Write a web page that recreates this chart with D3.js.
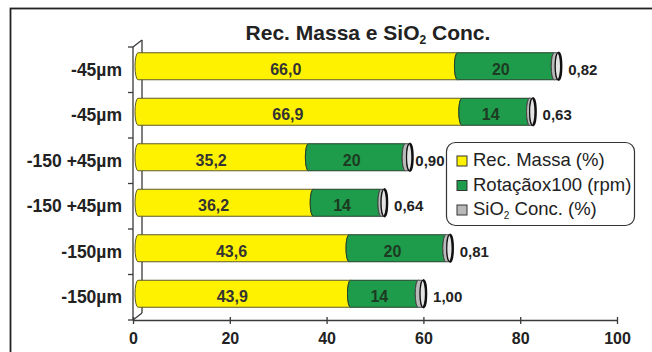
<!DOCTYPE html>
<html>
<head>
<meta charset="utf-8">
<script src="https://cdn.jsdelivr.net/npm/d3@7"></script>
<style>
  html, body { margin: 0; padding: 0; background: #fff; }
  svg { display: block; font-family: "Liberation Sans", Arial, sans-serif; }
</style>
</head>
<body>
<svg id="chart" width="652" height="352"></svg>
<script>
// Sample fractions (top to bottom)
const categories = ["-45µm", "-45µm", "-150 +45µm", "-150 +45µm", "-150µm", "-150µm"];
// Stacked series
const recMassa = [66.0, 66.9, 35.2, 36.2, 43.6, 43.9];   // Rec. Massa (%)
const rotacao  = [20, 14, 20, 14, 20, 14];               // Rotaçãox100 (rpm)
const sio2     = [0.82, 0.63, 0.90, 0.64, 0.81, 1.00];   // SiO2 Conc. (%)
const xTicks   = [0, 20, 40, 60, 80, 100];

const seriesNames = ["Rec. Massa (%)", "Rotaçãox100 (rpm)", "SiO2 Conc. (%)"];
const colors = ["#fff200", "#1f9c4b", "#b9b9b9"];
const strokes = ["#5e5a2c", "#20402a", "#444"];

const svg = d3.select("#chart");
const locale = d3.formatLocale({ decimal: ",", thousands: ".", grouping: [3], currency: ["", ""] });
const f1 = locale.format(".1f"), f2 = locale.format(".2f"), f0 = locale.format("d");

const x = d3.scaleLinear().domain([0, 100]).range([133, 617]);
const band = d3.scaleBand().domain(d3.range(categories.length)).range([47, 320]);

// depth offset of the 3D box and bar placement within it
const depth = { dx: 9, dy: -7 };
const barDx = 5, barDy = -3.5, barH = 27;
const capRx = 3;

// legend box geometry
const legend = { x: 446.5, y: 142.5, w: 188, h: 83 };

// outer frame
svg.append("rect").attr("x", 10.5).attr("y", 8.5).attr("width", 700).attr("height", 400)
  .attr("fill", "none").attr("stroke", "#222").attr("stroke-width", 1.8);

// title
const title = svg.append("text").attr("x", 368).attr("y", 40).attr("text-anchor", "middle")
  .attr("font-size", 21).attr("font-weight", "bold").attr("fill", "#222");
title.append("tspan").text("Rec. Massa e SiO");
title.append("tspan").attr("font-size", 12).attr("dy", 4).text("2");
title.append("tspan").attr("dy", -4).text(" Conc.");

// 3D wall outline
const axisColor = "#3a3a3a";
const wall = svg.append("g").attr("stroke", axisColor).attr("fill", "none").attr("stroke-width", 1.3);
wall.append("line").attr("x1", x(0)).attr("x2", x(0)).attr("y1", 47).attr("y2", 320);
wall.append("line").attr("x1", x(0) + depth.dx).attr("x2", x(0) + depth.dx).attr("y1", 47 + depth.dy).attr("y2", 320 + depth.dy);
wall.append("line").attr("x1", x(0)).attr("x2", x(0) + depth.dx).attr("y1", 47).attr("y2", 47 + depth.dy);
wall.append("line").attr("x1", x(0)).attr("x2", x(0) + depth.dx).attr("y1", 320).attr("y2", 320 + depth.dy);

// category ticks on the wall edge
const yTickPos = d3.range(categories.length + 1).map(i => 47 + i * band.bandwidth());
wall.selectAll(".yt").data(yTickPos).join("line")
  .attr("x1", x(0) - 5).attr("x2", x(0)).attr("y1", d => d).attr("y2", d => d);

// value axis
const xAxis = d3.axisBottom(x).tickValues(xTicks).tickSize(4).tickSizeOuter(0).tickPadding(6)
  .tickFormat(d3.format("d"));
const gx = svg.append("g").attr("transform", "translate(0,320)").call(xAxis);
gx.select(".domain").attr("stroke", axisColor).attr("stroke-width", 1.3);
gx.selectAll(".tick line").attr("stroke", axisColor).attr("stroke-width", 1.3).attr("y1", -3).attr("y2", 4);
gx.selectAll(".tick text").attr("font-size", 16).attr("font-weight", "bold").attr("fill", "#222")
  .attr("font-family", "Liberation Sans, Arial, sans-serif").attr("dy", "0.9em");

// category labels
svg.selectAll(".cat").data(categories).join("text")
  .attr("x", 122).attr("y", (d, i) => band(i) + band.bandwidth() / 2 + 6)
  .attr("text-anchor", "end").attr("font-size", 17.5).attr("font-weight", "bold").attr("fill", "#222")
  .text(d => d);

// stacked cylinder segments
const rows = categories.map((c, i) => {
  const vals = [recMassa[i], rotacao[i], sio2[i]];
  let acc = 0;
  const segs = vals.map((v, k) => { const s = { k, v, x0: acc, x1: acc + v }; acc += v; return s; });
  return { i, segs, total: acc };
});

function segPath(s, top, bot) {
  const a = x(s.x0) + barDx, b = x(s.x1) + barDx, ry = (bot - top) / 2;
  return `M${a},${top} A${capRx},${ry} 0 0 0 ${a},${bot} L${b},${bot} A${capRx},${ry} 0 0 1 ${b},${top} Z`;
}

const barG = svg.append("g");
rows.forEach(r => {
  const cy = band(r.i) + band.bandwidth() / 2 + barDy;
  const top = cy - barH / 2, bot = cy + barH / 2;
  const g = barG.append("g");
  g.selectAll("path").data(r.segs).join("path")
    .attr("d", s => segPath(s, top, bot))
    .attr("fill", s => colors[s.k]).attr("stroke", s => strokes[s.k]).attr("stroke-width", 1);
  // end cap
  const ex = x(r.total) + barDx;
  g.append("ellipse").attr("cx", ex).attr("cy", cy).attr("rx", capRx).attr("ry", barH / 2)
    .attr("fill", "#e4e4e4").attr("stroke", "#111").attr("stroke-width", 1.2);
  g.append("path")
    .attr("d", `M${ex},${top} A${capRx},${barH / 2} 0 0 1 ${ex},${bot}`)
    .attr("fill", "none").attr("stroke", "#111").attr("stroke-width", 2.4);

  const ly = band(r.i) + band.bandwidth() / 2 + 5;
  g.append("text").attr("x", x((r.segs[0].x0 + r.segs[0].x1) / 2) - 7).attr("y", ly)
    .attr("text-anchor", "middle").attr("font-size", 16).attr("font-weight", "bold").attr("fill", "#333")
    .text(f1(recMassa[r.i]));
  g.append("text").attr("x", x((r.segs[1].x0 + r.segs[1].x1) / 2)).attr("y", ly)
    .attr("text-anchor", "middle").attr("font-size", 16).attr("font-weight", "bold").attr("fill", "#1d3a22")
    .text(f0(rotacao[r.i]));
  // concentration label past the cap, kept clear of the legend box
  const lab = g.append("text").attr("y", ly)
    .attr("text-anchor", "start").attr("font-size", 15).attr("font-weight", "bold").attr("fill", "#222")
    .text(f2(sio2[r.i]));
  const w = lab.node().getComputedTextLength();
  let lx = ex + 10;
  const overlapsLegend = ly > legend.y && ly - 12 < legend.y + legend.h && lx + w > legend.x - 2;
  if (overlapsLegend) lx = Math.max(ex + 3, legend.x - 2 - w);
  lab.attr("x", lx);
});

// legend
const lg = svg.append("g");
lg.append("rect").attr("x", legend.x).attr("y", legend.y).attr("width", legend.w).attr("height", legend.h).attr("rx", 9)
  .attr("fill", "#fff").attr("stroke", "#333").attr("stroke-width", 1.2);
seriesNames.forEach((n, k) => {
  const ty = 166 + k * 24.5;
  lg.append("rect").attr("x", 457).attr("y", ty - 10).attr("width", 10).attr("height", 10)
    .attr("fill", colors[k]).attr("stroke", "#333").attr("stroke-width", 1);
  const t = lg.append("text").attr("x", 473).attr("y", ty).attr("font-size", 18.5).attr("fill", "#222");
  if (k === 2) {
    t.append("tspan").text("SiO");
    t.append("tspan").attr("font-size", 10).attr("dy", 4).text("2");
    t.append("tspan").attr("dy", -4).text(" Conc. (%)");
  } else {
    t.text(n);
  }
});
</script>
</body>
</html>
